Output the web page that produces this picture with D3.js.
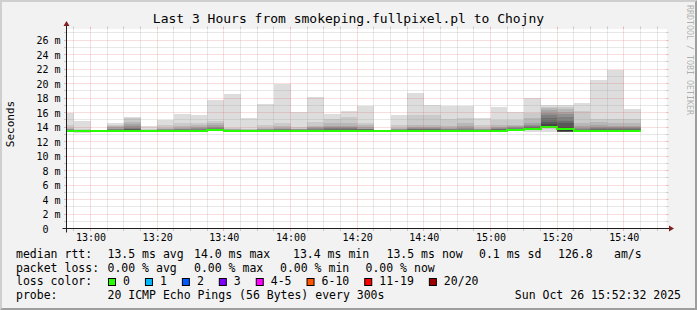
<!DOCTYPE html>
<html><head><meta charset="utf-8">
<script src="https://cdn.jsdelivr.net/npm/d3@7"></script>
<style>
html,body{margin:0;padding:0;background:#f2f2f2;}
svg{display:block;}
text{font-family:"DejaVu Sans Mono",monospace;fill:#000;}
</style></head><body>
<svg id="chart" width="697" height="310"></svg>
<script>
// ---------------- data ----------------
const titleText = "Last 3 Hours from smokeping.fullpixel.pl to Chojny";
const yUnitLabel = "Seconds";
const stepEnds = ["12:55","13:00","13:05","13:10","13:15","13:20","13:25","13:30","13:35","13:40",
  "13:45","13:50","13:55","14:00","14:05","14:10","14:15","14:20","14:25","14:30",
  "14:35","14:40","14:45","14:50","14:55","15:00","15:05","15:10","15:15","15:20",
  "15:25","15:30","15:35","15:40","15:45"];
// median rtt per step (ms)
const medianRtt = [13.5,13.4,13.45,13.5,13.5,13.5,13.5,13.5,13.5,13.55,
  13.5,13.5,13.5,13.5,13.5,13.5,13.5,13.5,13.5,13.45,
  13.45,13.5,13.5,13.45,13.45,13.45,13.5,13.6,13.8,14.0,
  13.75,13.5,13.5,13.5,13.5];
// 20 sorted ping rtts per step (ms)
const pings = [
 [13.40,13.42,13.44,13.45,13.46,13.47,13.48,13.48,13.49,13.50,13.51,13.55,13.58,13.60,13.65,13.70,13.80,13.90,14.30,16.00],
 [13.20,13.30,13.34,13.36,13.37,13.38,13.38,13.39,13.39,13.40,13.41,13.42,13.44,13.45,13.48,13.50,13.55,13.60,13.70,14.90],
 [13.40,13.41,13.42,13.43,13.43,13.44,13.44,13.45,13.45,13.45,13.46,13.46,13.47,13.48,13.49,13.50,13.50,13.52,13.55,13.60],
 [13.40,13.42,13.44,13.45,13.46,13.47,13.48,13.48,13.49,13.50,13.51,13.55,13.60,13.65,13.70,13.80,14.00,14.10,14.30,14.60],
 [13.40,13.42,13.44,13.45,13.46,13.47,13.48,13.48,13.49,13.50,13.52,13.60,13.68,13.75,13.90,14.10,14.40,14.75,15.20,15.40],
 [13.40,13.42,13.44,13.45,13.46,13.47,13.48,13.48,13.49,13.50,13.51,13.52,13.53,13.54,13.56,13.58,13.60,13.65,13.75,14.10],
 [13.40,13.42,13.44,13.45,13.46,13.47,13.48,13.48,13.49,13.50,13.51,13.55,13.58,13.60,13.65,13.70,13.80,13.90,14.30,15.00],
 [13.40,13.42,13.44,13.45,13.46,13.47,13.48,13.48,13.49,13.50,13.51,13.55,13.58,13.62,13.70,13.80,13.90,14.10,14.60,15.85],
 [13.40,13.42,13.44,13.45,13.46,13.47,13.48,13.48,13.49,13.50,13.52,13.57,13.60,13.65,13.75,13.85,14.00,14.30,14.50,15.60],
 [13.45,13.47,13.49,13.50,13.51,13.52,13.53,13.53,13.54,13.55,13.56,13.60,13.65,13.70,13.85,14.00,14.30,14.50,14.85,17.70],
 [13.40,13.42,13.44,13.45,13.46,13.47,13.48,13.48,13.49,13.50,13.51,13.53,13.55,13.57,13.60,13.65,13.70,13.75,13.90,18.60],
 [13.40,13.42,13.44,13.45,13.46,13.47,13.48,13.48,13.49,13.50,13.51,13.52,13.54,13.56,13.58,13.60,13.65,13.70,13.80,15.20],
 [13.40,13.42,13.44,13.45,13.46,13.47,13.48,13.48,13.49,13.50,13.51,13.55,13.58,13.60,13.65,13.70,13.80,13.90,14.30,17.20],
 [13.40,13.42,13.44,13.45,13.46,13.47,13.48,13.48,13.49,13.50,13.51,13.55,13.58,13.62,13.70,13.80,13.90,14.10,14.60,20.00],
 [13.40,13.42,13.44,13.45,13.46,13.47,13.48,13.48,13.49,13.50,13.51,13.53,13.55,13.58,13.62,13.67,13.72,13.80,14.00,16.10],
 [13.40,13.42,13.44,13.45,13.46,13.47,13.48,13.48,13.49,13.50,13.51,13.55,13.60,13.65,13.75,13.85,13.95,14.20,14.70,18.10],
 [13.40,13.42,13.44,13.45,13.46,13.47,13.48,13.48,13.49,13.50,13.52,13.60,13.65,13.70,13.85,14.00,14.20,14.55,15.10,15.75],
 [13.40,13.42,13.44,13.45,13.46,13.47,13.48,13.48,13.49,13.50,13.52,13.60,13.65,13.70,13.85,14.00,14.20,14.50,15.40,16.20],
 [13.40,13.42,13.44,13.45,13.46,13.47,13.48,13.48,13.49,13.50,13.52,13.57,13.62,13.68,13.75,13.80,14.00,14.30,14.50,16.95],
 [13.40,13.41,13.42,13.43,13.43,13.44,13.44,13.45,13.45,13.45,13.46,13.46,13.47,13.48,13.49,13.50,13.50,13.52,13.55,13.60],
 [13.40,13.42,13.44,13.45,13.46,13.47,13.48,13.48,13.49,13.50,13.51,13.55,13.58,13.60,13.65,13.70,13.80,13.90,14.30,15.70],
 [13.40,13.42,13.44,13.45,13.46,13.47,13.48,13.48,13.49,13.50,13.52,13.57,13.62,13.70,13.78,13.85,14.00,14.30,15.65,18.70],
 [13.40,13.42,13.44,13.45,13.46,13.47,13.48,13.48,13.49,13.50,13.52,13.57,13.62,13.70,13.78,13.85,14.00,14.30,15.65,17.00],
 [13.35,13.38,13.40,13.41,13.42,13.43,13.44,13.44,13.45,13.45,13.46,13.50,13.55,13.60,13.70,13.80,13.90,14.20,15.10,16.95],
 [13.35,13.38,13.40,13.41,13.42,13.43,13.44,13.44,13.45,13.45,13.46,13.52,13.58,13.65,13.75,13.90,14.10,14.50,15.30,16.95],
 [13.35,13.38,13.40,13.41,13.42,13.43,13.44,13.44,13.45,13.45,13.46,13.50,13.55,13.60,13.65,13.70,13.80,13.90,14.30,15.20],
 [13.40,13.42,13.44,13.45,13.46,13.47,13.48,13.48,13.49,13.50,13.52,13.58,13.65,13.72,13.80,13.90,14.00,14.30,15.00,16.80],
 [13.40,13.45,13.50,13.52,13.54,13.55,13.56,13.57,13.58,13.59,13.61,13.65,13.70,13.75,13.85,13.95,14.10,14.35,15.00,16.10],
 [13.25,13.60,13.68,13.70,13.72,13.74,13.75,13.76,13.78,13.79,13.81,13.85,13.90,14.00,14.10,14.30,14.50,15.20,15.90,18.05],
 [13.35,13.78,13.82,13.84,13.85,13.86,13.86,13.87,13.87,13.88,14.20,14.40,14.70,15.20,15.65,15.95,16.30,16.60,16.80,17.00],
 [13.30,13.32,13.34,13.35,13.36,13.37,13.38,13.38,13.40,13.40,13.90,14.00,14.50,14.90,15.40,15.80,16.10,16.50,16.80,17.00],
 [13.40,13.42,13.44,13.45,13.46,13.47,13.48,13.48,13.49,13.50,13.51,13.55,13.60,13.65,13.75,13.85,14.10,14.50,16.25,17.35],
 [13.40,13.42,13.44,13.45,13.46,13.47,13.48,13.48,13.49,13.50,13.52,13.57,13.62,13.70,13.85,14.00,14.30,14.70,15.10,20.50],
 [13.40,13.42,13.44,13.45,13.46,13.47,13.48,13.48,13.49,13.50,13.52,13.57,13.62,13.70,13.85,14.00,14.20,14.60,15.05,21.90],
 [13.40,13.42,13.44,13.45,13.46,13.47,13.48,13.48,13.49,13.50,13.52,13.57,13.62,13.70,13.85,14.00,14.20,14.50,15.10,16.50]
];
const yTicks = [0,2,4,6,8,10,12,14,16,18,20,22,24,26];
const xTickLabels = ["13:00","13:20","13:40","14:00","14:20","14:40","15:00","15:20","15:40"];
const lossLabels = ["0","1","2","3","4-5","6-10","11-19","20/20"];
const lossColors = ["#26ff00","#00b8ff","#0059ff","#7e00ff","#ff00ff","#ff5500","#ff0000","#a10000"];
const medianStats = ["13.5 ms avg","14.0 ms max","13.4 ms min","13.5 ms now","0.1 ms sd","126.8","am/s"];
const lossStats = ["0.00 % avg","0.00 % max","0.00 % min","0.00 % now"];
const probeText = "20 ICMP Echo Pings (56 Bytes) every 300s";
const dateText = "Sun Oct 26 15:52:32 2025";
const smokeGreys = ["#dddddd","#cacaca","#b7b7b7","#a4a4a4","#919191","#7e7e7e","#6b6b6b","#585858","#454545","#323232"];

// ---------------- layout ----------------
const W = 697, H = 310;
const X0 = 66.5, X1 = 666.5, Y0 = 228.5, Y1 = 28.5;
const T = s => { const p = s.split(":").map(Number); return new Date(Date.UTC(2025, 9, 26, p[0], p[1], p[2] || 0)); };
const x = d3.scaleUtc().domain([T("12:52:48"), T("15:52:48")]).range([X0, X1]);
const y = d3.scaleLinear().domain([0, 27.6]).range([Y0, Y1]);
const snap = v => Math.round(v - 0.5) + 0.5;

const svg = d3.select("#chart");
svg.append("rect").attr("width", W).attr("height", H).attr("fill", "#f2f2f2");
svg.append("path").attr("d", `M0,${H} L2,${H-2} L2,2 L${W-2},2 L${W},0 L0,0 Z`).attr("fill", "#cfcfcf");
svg.append("path").attr("d", `M2,${H-2} L${W-2},${H-2} L${W-2},2 L${W},0 L${W},${H} L0,${H} Z`).attr("fill", "#9e9e9e");
svg.append("rect").attr("x", 67).attr("y", 29).attr("width", 600).attr("height", 200).attr("fill", "#fff");

svg.append("defs").append("clipPath").attr("id", "plotclip")
  .append("rect").attr("x", 67).attr("y", 28).attr("width", 600).attr("height", 201);
const plot = svg.append("g").attr("clip-path", "url(#plotclip)");

// smoke
const steps = stepEnds.map((e, i) => {
  const end = T(e);
  const start = new Date(end.getTime() - 300000);
  return { start, end, p: pings[i], med: medianRtt[i] };
});
steps.forEach(s => {
  const xa = Math.round(x(s.start)), xb = Math.round(x(s.end));
  for (let k = 0; k < 10; k++) {
    const lo = s.p[k], hi = s.p[19 - k];
    const ya = Math.round(y(hi)), yb = Math.round(y(lo));
    if (yb - ya <= 0) continue;
    plot.append("rect").attr("x", xa).attr("width", xb - xa)
      .attr("y", ya).attr("height", yb - ya).attr("fill", smokeGreys[k]);
  }
});
// median line
const medPts = [];
steps.forEach(s => {
  const yy = Math.round(y(s.med));
  medPts.push([Math.round(x(s.start)), yy], [Math.round(x(s.end)), yy]);
});
plot.append("path").attr("d", d3.line()(medPts)).attr("fill", "none")
  .attr("stroke", lossColors[0]).attr("stroke-width", 2);

// grid, drawn above the graph as rrdtool does
const grid = svg.append("g");
const GRID = "rgba(143,143,143,0.42)", MGRID = "rgba(222,79,79,0.38)";
for (let v = 1; v <= 27; v++) {
  const yy = snap(y(v));
  const col = v % 2 === 0 ? MGRID : GRID;
  grid.append("line").attr("x1", X0 + 1).attr("x2", X1).attr("y1", yy).attr("y2", yy)
    .attr("stroke", col).attr("stroke-dasharray", "1 1");
  grid.append("line").attr("x1", X0 - 2.5).attr("x2", X0).attr("y1", yy).attr("y2", yy).attr("stroke", col);
  grid.append("line").attr("x1", X1).attr("x2", X1 + 2).attr("y1", yy).attr("y2", yy).attr("stroke", col);
}
d3.utcMinute.every(5).range(x.domain()[0], x.domain()[1]).forEach(t => {
  const xx = snap(x(t));
  const col = t.getUTCMinutes() % 20 === 0 ? MGRID : GRID;
  grid.append("line").attr("x1", xx).attr("x2", xx).attr("y1", Y1).attr("y2", Y0)
    .attr("stroke", col).attr("stroke-dasharray", "1 1");
  grid.append("line").attr("x1", xx).attr("x2", xx).attr("y1", Y1 - 2).attr("y2", Y1).attr("stroke", col);
  grid.append("line").attr("x1", xx).attr("x2", xx).attr("y1", Y0).attr("y2", Y0 + 2.5).attr("stroke", col);
});

// axes lines + arrows
svg.append("line").attr("x1", X0 - 4).attr("x2", X1 + 4).attr("y1", Y0).attr("y2", Y0).attr("stroke", "#1f1f1f");
svg.append("line").attr("x1", X0).attr("x2", X0).attr("y1", Y0 + 4).attr("y2", Y1 - 4).attr("stroke", "#1f1f1f");
svg.append("path").attr("d", `M${X1+2.5},${Y0-3} L${X1+2.5},${Y0+3} L${X1+7.5},${Y0} Z`).attr("fill", "#7f1f1f");
svg.append("path").attr("d", `M${X0-3},${Y1-2.5} L${X0+3},${Y1-2.5} L${X0},${Y1-7.5} Z`).attr("fill", "#7f1f1f");

// x axis labels
const xAxis = d3.axisBottom(x).tickValues(xTickLabels.map(T))
  .tickFormat(d3.utcFormat("%H:%M")).tickSize(0);
const gx = svg.append("g").attr("transform", `translate(0,${Y0})`).call(xAxis);
gx.select(".domain").remove();
gx.selectAll("text").attr("y", 12).attr("dy", null)
  .attr("font-family", "DejaVu Sans Mono").attr("font-size", 10).attr("fill", "#000");

// y axis labels
const yAxis = d3.axisLeft(y).tickValues(yTicks)
  .tickFormat(d => d === 0 ? "0\u00a0\u00a0" : d + "\u00a0m").tickSize(0).tickPadding(0);
const gy = svg.append("g").attr("transform", `translate(60.5,0)`).call(yAxis);
gy.select(".domain").remove();
gy.selectAll("text").attr("dy", "0.35em")
  .attr("font-family", "DejaVu Sans Mono").attr("font-size", 10).attr("fill", "#000");

// title, unit, watermark
svg.append("text").attr("x", W / 2).attr("y", 23).attr("text-anchor", "middle")
  .attr("font-size", 13).text(titleText);
svg.append("text").attr("transform", "translate(14,124) rotate(-90)").attr("text-anchor", "middle")
  .attr("font-size", 11).text(yUnitLabel);
svg.append("text").attr("transform", `translate(${W - 4},5) rotate(90)`)
  .attr("dominant-baseline", "hanging").attr("font-size", 8.3)
  .style("fill", "rgba(0,0,0,0.3)").text("RRDTOOL / TOBI OETIKER");

// legend
const lg = svg.append("g").attr("font-size", 11.5);
const rowY = [258, 271.5, 285, 298.5];
lg.append("text").attr("x", 16).attr("y", rowY[0]).text("median rtt:");
const medX = [107.5, 194, 293, 386.5, 479, 558, 614];
medianStats.forEach((t, i) => lg.append("text").attr("x", medX[i]).attr("y", rowY[0]).text(t));
lg.append("text").attr("x", 16).attr("y", rowY[1]).text("packet loss:");
const lossX = [107.5, 194, 280, 365.5];
lossStats.forEach((t, i) => lg.append("text").attr("x", lossX[i]).attr("y", rowY[1]).text(t));
lg.append("text").attr("x", 16).attr("y", rowY[2]).text("loss color:");
let cx = 108;
lossLabels.forEach((l, i) => {
  lg.append("rect").attr("x", cx + 0.5).attr("y", 278.5).attr("width", 7).attr("height", 7)
    .attr("fill", lossColors[i]).attr("stroke", "#000").attr("stroke-width", 1);
  const t = lg.append("text").attr("x", cx + 15).attr("y", rowY[2]).text(l);
  cx = cx + 15 + t.node().getComputedTextLength() + 15;
});
lg.append("text").attr("x", 16).attr("y", rowY[3]).text("probe:");
lg.append("text").attr("x", 107.5).attr("y", rowY[3]).text(probeText);
lg.append("text").attr("x", 681).attr("y", rowY[3]).attr("text-anchor", "end").text(dateText);
</script>
</body></html>
